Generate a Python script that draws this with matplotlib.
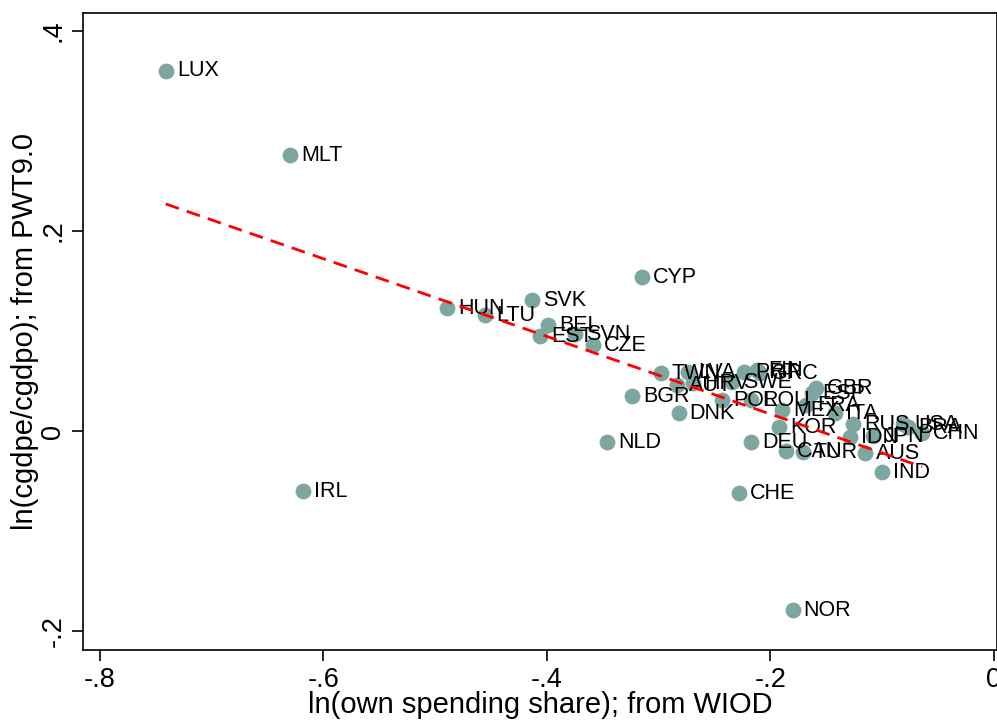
import matplotlib
matplotlib.use("Agg")
import matplotlib.pyplot as plt
import numpy as np

plt.rcParams['font.family'] = ['Liberation Sans', 'DejaVu Sans']

countries = ["LUX", "MLT", "IRL", "HUN", "LTU", "SVK", "BEL", "EST", "SVN", "CZE",
             "CYP", "NLD", "BGR", "TWN", "DNK", "AUT", "LVA", "HRV", "POL", "SWE",
             "PRT", "FIN", "GRC", "ROU", "CHE", "DEU", "MEX", "KOR", "FRA", "ESP",
             "GBR", "ITA", "CAN", "TUR", "NOR", "RUS", "IDN", "JPN", "AUS", "IND",
             "USA", "BRA", "CHN"]
own_share = [-0.741, -0.630, -0.618, -0.489, -0.455, -0.413, -0.399, -0.406, -0.375, -0.359,
             -0.315, -0.346, -0.324, -0.298, -0.282, -0.283, -0.274, -0.269, -0.243, -0.234,
             -0.223, -0.212, -0.209, -0.217, -0.228, -0.217, -0.189, -0.192, -0.168, -0.163,
             -0.159, -0.142, -0.186, -0.171, -0.180, -0.126, -0.129, -0.108, -0.115, -0.100,
             -0.081, -0.077, -0.064]
price_ratio = [0.360, 0.276, -0.060, 0.123, 0.116, 0.131, 0.106, 0.095, 0.097, 0.086,
               0.154, -0.011, 0.035, 0.058, 0.018, 0.046, 0.059, 0.048, 0.031, 0.049,
               0.059, 0.061, 0.058, 0.031, -0.062, -0.011, 0.021, 0.004, 0.026, 0.038,
               0.043, 0.018, -0.020, -0.021, -0.179, 0.007, -0.006, -0.005, -0.022, -0.041,
               0.007, 0.004, -0.002]

x_ticks = [-0.8, -0.6, -0.4, -0.2, 0.0]
x_ticklabels = ["-.8", "-.6", "-.4", "-.2", "0"]
y_ticks = [-0.2, 0.0, 0.2, 0.4]
y_ticklabels = ["-.2", "0", ".2", ".4"]

x = np.array(own_share)
y = np.array(price_ratio)

fig = plt.figure(figsize=(9.97, 7.2), dpi=100)
ax = fig.add_axes([0.0833, 0.097, 0.9167, 0.885])

ax.scatter(x, y, s=130, color="#7ea6a0", zorder=3, linewidths=0)
for c, xi, yi in zip(countries, x, y):
    ax.annotate(c, (xi, yi), xytext=(8, 0), textcoords="offset points",
                va="center", ha="left", fontsize=15.5, color="black", zorder=4)

b, a = np.polyfit(x, y, 1)
xs = np.array([x.min(), x.max()])
ax.plot(xs, a + b * xs, color="red", linestyle=(0, (5, 3)), linewidth=2.0, zorder=5)

ax.set_xlim(-0.815, 0.003)
ax.set_ylim(-0.219, 0.418)
ax.set_xticks(x_ticks)
ax.set_xticklabels(x_ticklabels, fontsize=19.5)
ax.set_yticks(y_ticks)
ax.set_yticklabels(y_ticklabels, fontsize=19.5, rotation=90, va="center")
ax.tick_params(direction="out", length=8, width=1.2, pad=4)
for sp in ax.spines.values():
    sp.set_linewidth(1.2)

ax.set_xlabel("ln(own spending share); from WIOD", fontsize=21, labelpad=-1)
ax.set_ylabel("ln(cgdpe/cgdpo); from PWT9.0", fontsize=21, labelpad=1)

fig.savefig("out.png", dpi=100)
